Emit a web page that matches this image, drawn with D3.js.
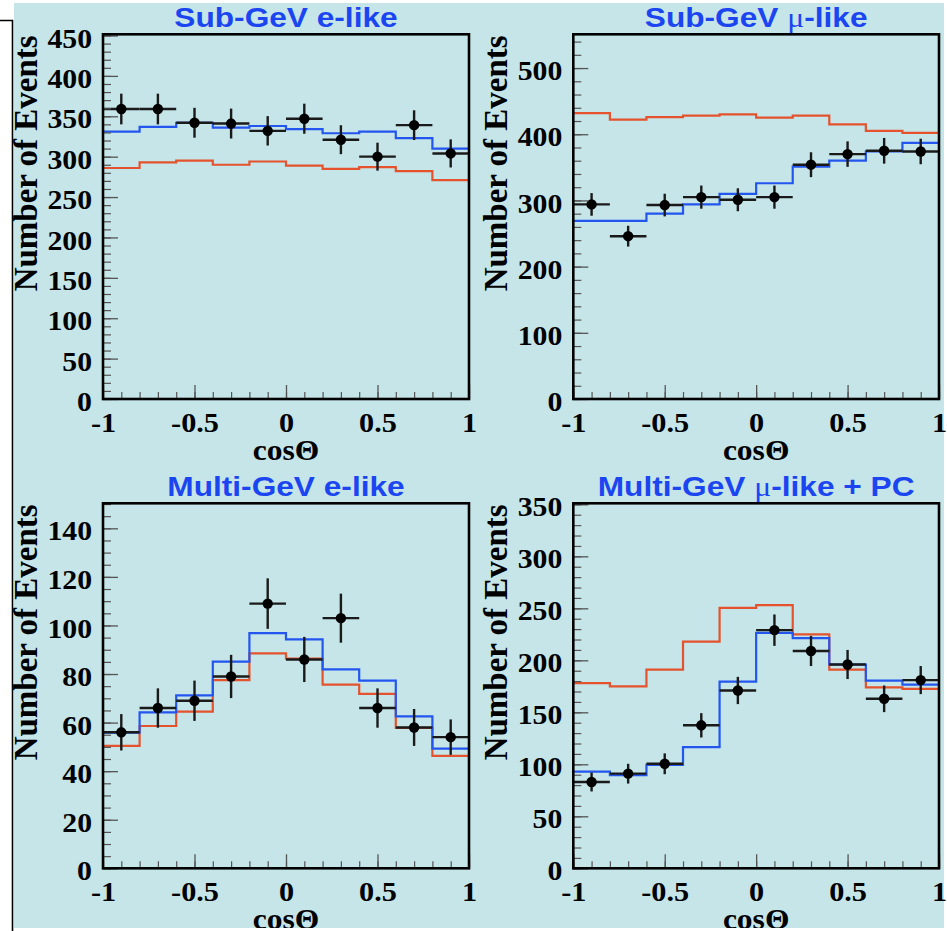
<!DOCTYPE html>
<html><head><meta charset="utf-8">
<script src="https://cdn.jsdelivr.net/npm/d3@7"></script>
<style>html,body{margin:0;padding:0;background:#fff;} svg{display:block;}</style>
</head><body>
<svg id="c" width="947" height="931"></svg>
<script>
// ---------- data ----------
const binCenters = [-0.9, -0.7, -0.5, -0.3, -0.1, 0.1, 0.3, 0.5, 0.7, 0.9];
const binWidth = 0.2;
const xTickValues = [-1, -0.5, 0, 0.5, 1];
const xTickLabels = ["-1", "-0.5", "0", "0.5", "1"];
const xMinorTicks = [-1, -0.9, -0.8, -0.7, -0.6, -0.5, -0.4, -0.3, -0.2, -0.1, 0, 0.1, 0.2, 0.3, 0.4, 0.5, 0.6, 0.7, 0.8, 0.9, 1];

const titles = ["Sub-GeV e-like", "Sub-GeV \u03bc-like", "Multi-GeV e-like", "Multi-GeV \u03bc-like + PC"];

// Sub-GeV e-like
const subE_data  = [359, 359, 342, 341, 332, 347, 321, 300, 339, 304];
const subE_err   = [19, 19, 18.5, 18.5, 18.2, 18.6, 17.9, 17.3, 18.4, 17.4];
const subE_noOsc = [286, 293, 295, 290, 294, 289, 285, 287, 282, 271];
const subE_osc   = [331, 337, 342, 336, 338, 334, 329, 331, 323, 310];
const subE_yTicks = [0, 50, 100, 150, 200, 250, 300, 350, 400, 450];

// Sub-GeV mu-like
const subMu_data  = [294, 246, 293, 305, 301, 305, 354, 370, 375, 374];
const subMu_err   = [17.1, 15.7, 17.1, 17.5, 17.3, 17.5, 18.8, 19.2, 19.4, 19.3];
const subMu_noOsc = [432, 422, 426, 428, 430, 425, 428, 415, 405, 402];
const subMu_osc   = [269, 269, 280, 294, 310, 326, 351, 360, 374, 387];
const subMu_yTicks = [0, 100, 200, 300, 400, 500];

// Multi-GeV e-like
const multiE_data  = [56, 66, 69, 79, 109, 86, 103, 66, 58, 54];
const multiE_err   = [7.5, 8.1, 8.3, 8.9, 10.4, 9.3, 10.1, 8.1, 7.6, 7.3];
const multiE_noOsc = [50.4, 58.6, 64.5, 77.5, 88.5, 86.3, 75.6, 71.8, 57.8, 46.3];
const multiE_osc   = [55.9, 64.2, 71.2, 85.1, 96.8, 94.3, 81.9, 77.3, 62.6, 49.3];
const multiE_yTicks = [0, 20, 40, 60, 80, 100, 120, 140];

// Multi-GeV mu-like + PC
const multiMu_data  = [83, 91, 100.5, 137.5, 171, 229, 209, 196, 163, 181];
const multiMu_err   = [9.1, 9.5, 10, 11.7, 13.1, 15.1, 14.5, 14, 12.8, 13.5];
const multiMu_noOsc = [178, 175, 191, 218, 250.5, 253, 225, 191, 174, 172.5];
const multiMu_osc   = [93, 89.6, 99.5, 116.6, 179.5, 226.4, 221.3, 196, 180.5, 176.6];
const multiMu_yTicks = [0, 50, 100, 150, 200, 250, 300, 350];

// ---------- layout ----------
const panels = [
  {title: titles[0], data: subE_data, err: subE_err, red: subE_noOsc, blue: subE_osc, yTicks: subE_yTicks, yMax: 451.5, minorStep: 10,
   left: 103, right: 469, top: 34.3, bottom: 399},
  {title: titles[1], data: subMu_data, err: subMu_err, red: subMu_noOsc, blue: subMu_osc, yTicks: subMu_yTicks, yMax: 551, minorStep: 20,
   left: 573.3, right: 939, top: 34.3, bottom: 399},
  {title: titles[2], data: multiE_data, err: multiE_err, red: multiE_noOsc, blue: multiE_osc, yTicks: multiE_yTicks, yMax: 150.3, minorStep: 5,
   left: 103, right: 469, top: 503.3, bottom: 868.3},
  {title: titles[3], data: multiMu_data, err: multiMu_err, red: multiMu_noOsc, blue: multiMu_osc, yTicks: multiMu_yTicks, yMax: 351, minorStep: 10,
   left: 573.3, right: 939, top: 503.3, bottom: 868.3}
];

const COL_BG = "#c5e5e8";
const COL_RED = "#e4532d";
const COL_BLUE = "#2356ee";
const COL_TITLE = "#1c45f2";
const SERIF = "'Liberation Serif','Times New Roman',serif";
const SANS = "'Liberation Sans',Arial,Helvetica,sans-serif";

const svg = d3.select("#c");
svg.append("rect").attr("x", 0).attr("y", 0).attr("width", 947).attr("height", 931).attr("fill", "#fff");
svg.append("rect").attr("x", 14).attr("y", 3).attr("width", 930).attr("height", 925).attr("fill", COL_BG);
// left border corner line
svg.append("path").attr("d", "M0,20.5H12.5V931").attr("fill", "none").attr("stroke", "#000").attr("stroke-width", 1.6);

function stretch(sel, k) {
  sel.each(function () {
    const w = this.getComputedTextLength();
    this.setAttribute("textLength", (w * k).toFixed(1));
    this.setAttribute("lengthAdjust", "spacingAndGlyphs");
  });
}

panels.forEach(p => {
  const x = d3.scaleLinear().domain([-1, 1]).range([p.left, p.right]);
  const y = d3.scaleLinear().domain([0, p.yMax]).range([p.bottom, p.top]);
  const g = svg.append("g");

  // histograms (step lines)
  const stepLine = d3.line().x(d => x(d[0])).y(d => y(d[1])).curve(d3.curveStepAfter);
  function stepPts(vals) {
    const pts = binCenters.map((c, i) => [c - binWidth / 2, vals[i]]);
    pts.push([binCenters[binCenters.length - 1] + binWidth / 2, vals[vals.length - 1]]);
    return pts;
  }
  g.append("path").attr("d", stepLine(stepPts(p.red))).attr("fill", "none").attr("stroke", COL_RED).attr("stroke-width", 2.2);
  g.append("path").attr("d", stepLine(stepPts(p.blue))).attr("fill", "none").attr("stroke", COL_BLUE).attr("stroke-width", 2.2);

  // data points with error bars
  const pts = g.append("g").selectAll("g").data(binCenters.map((c, i) => ({c, v: p.data[i], e: p.err[i]}))).join("g");
  pts.append("line").attr("x1", d => x(d.c - binWidth / 2)).attr("x2", d => x(d.c + binWidth / 2))
    .attr("y1", d => y(d.v)).attr("y2", d => y(d.v)).attr("stroke", "#1a1a1a").attr("stroke-width", 2.4);
  pts.append("line").attr("x1", d => x(d.c)).attr("x2", d => x(d.c))
    .attr("y1", d => y(d.v - d.e)).attr("y2", d => y(d.v + d.e)).attr("stroke", "#1a1a1a").attr("stroke-width", 2.4);
  pts.append("circle").attr("cx", d => x(d.c)).attr("cy", d => y(d.v)).attr("r", 5.2).attr("fill", "#000");

  // minor ticks
  const yMinor = d3.range(0, p.yMax + 0.001, p.minorStep);
  g.append("g").attr("transform", `translate(${p.left},0)`)
    .call(d3.axisLeft(y).tickValues(yMinor).tickSize(-8).tickFormat(""))
    .call(s => s.select(".domain").remove())
    .call(s => s.selectAll("line").attr("stroke", "#555").attr("stroke-width", 1.2));
  g.append("g").attr("transform", `translate(0,${p.bottom})`)
    .call(d3.axisBottom(x).tickValues(xMinorTicks).tickSize(-7).tickFormat(""))
    .call(s => s.select(".domain").remove())
    .call(s => s.selectAll("line").attr("stroke", "#555").attr("stroke-width", 1.2));

  // major ticks + labels
  const ya = g.append("g").attr("transform", `translate(${p.left},0)`)
    .call(d3.axisLeft(y).tickValues(p.yTicks).tickSize(-15).tickPadding(11).tickFormat(d3.format("d")));
  ya.select(".domain").remove();
  ya.selectAll("line").attr("stroke", "#555").attr("stroke-width", 1.3);
  ya.selectAll("text").attr("font-family", SERIF).attr("font-weight", "bold").attr("font-size", 27)
    .attr("fill", "#000").attr("dy", "0.43em").call(stretch, 1.1);

  const xa = g.append("g").attr("transform", `translate(0,${p.bottom})`)
    .call(d3.axisBottom(x).tickValues(xTickValues).tickSize(-14).tickFormat((d, i) => xTickLabels[i]));
  xa.select(".domain").remove();
  xa.selectAll("line").attr("stroke", "#555").attr("stroke-width", 1.3);
  xa.selectAll("text").attr("font-family", SERIF).attr("font-weight", "bold").attr("font-size", 27)
    .attr("fill", "#000").attr("y", 33).attr("dy", 0).call(stretch, 1.12);

  // frame
  g.append("rect").attr("x", p.left).attr("y", p.top).attr("width", p.right - p.left).attr("height", p.bottom - p.top)
    .attr("fill", "none").attr("stroke", "#000").attr("stroke-width", 2.6);

  // axis titles
  g.append("text").attr("transform", `translate(${p.left - 66.5},${p.top + 1}) rotate(-90)`)
    .attr("text-anchor", "end").attr("font-family", SERIF).attr("font-weight", "bold").attr("font-size", 33)
    .attr("fill", "#000").text("Number of Events");
  const xt = g.append("text").attr("x", (p.left + p.right) / 2).attr("y", p.bottom + 61)
    .attr("text-anchor", "middle").attr("font-family", SERIF).attr("font-weight", "bold").attr("font-size", 30)
    .attr("fill", "#000").text("cos\u0398");
  stretch(xt, 1.05);

  // panel title
  const parts = p.title.split("\u03bc");
  const tt = g.append("text").attr("x", (p.left + p.right) / 2).attr("y", p.top - 7.5)
    .attr("text-anchor", "middle").attr("font-family", SANS).attr("font-weight", "bold").attr("font-size", 28)
    .attr("fill", COL_TITLE);
  tt.append("tspan").text(parts[0]);
  if (parts.length > 1) {
    tt.append("tspan").attr("font-family", SERIF).attr("font-weight", "normal").text("\u03bc");
    tt.append("tspan").text(parts[1]);
  }
  stretch(tt, 1.13);
});

// clip bottom: white strip below background
svg.append("rect").attr("x", 14).attr("y", 928).attr("width", 933).attr("height", 3).attr("fill", "#fff");
</script>
</body></html>
